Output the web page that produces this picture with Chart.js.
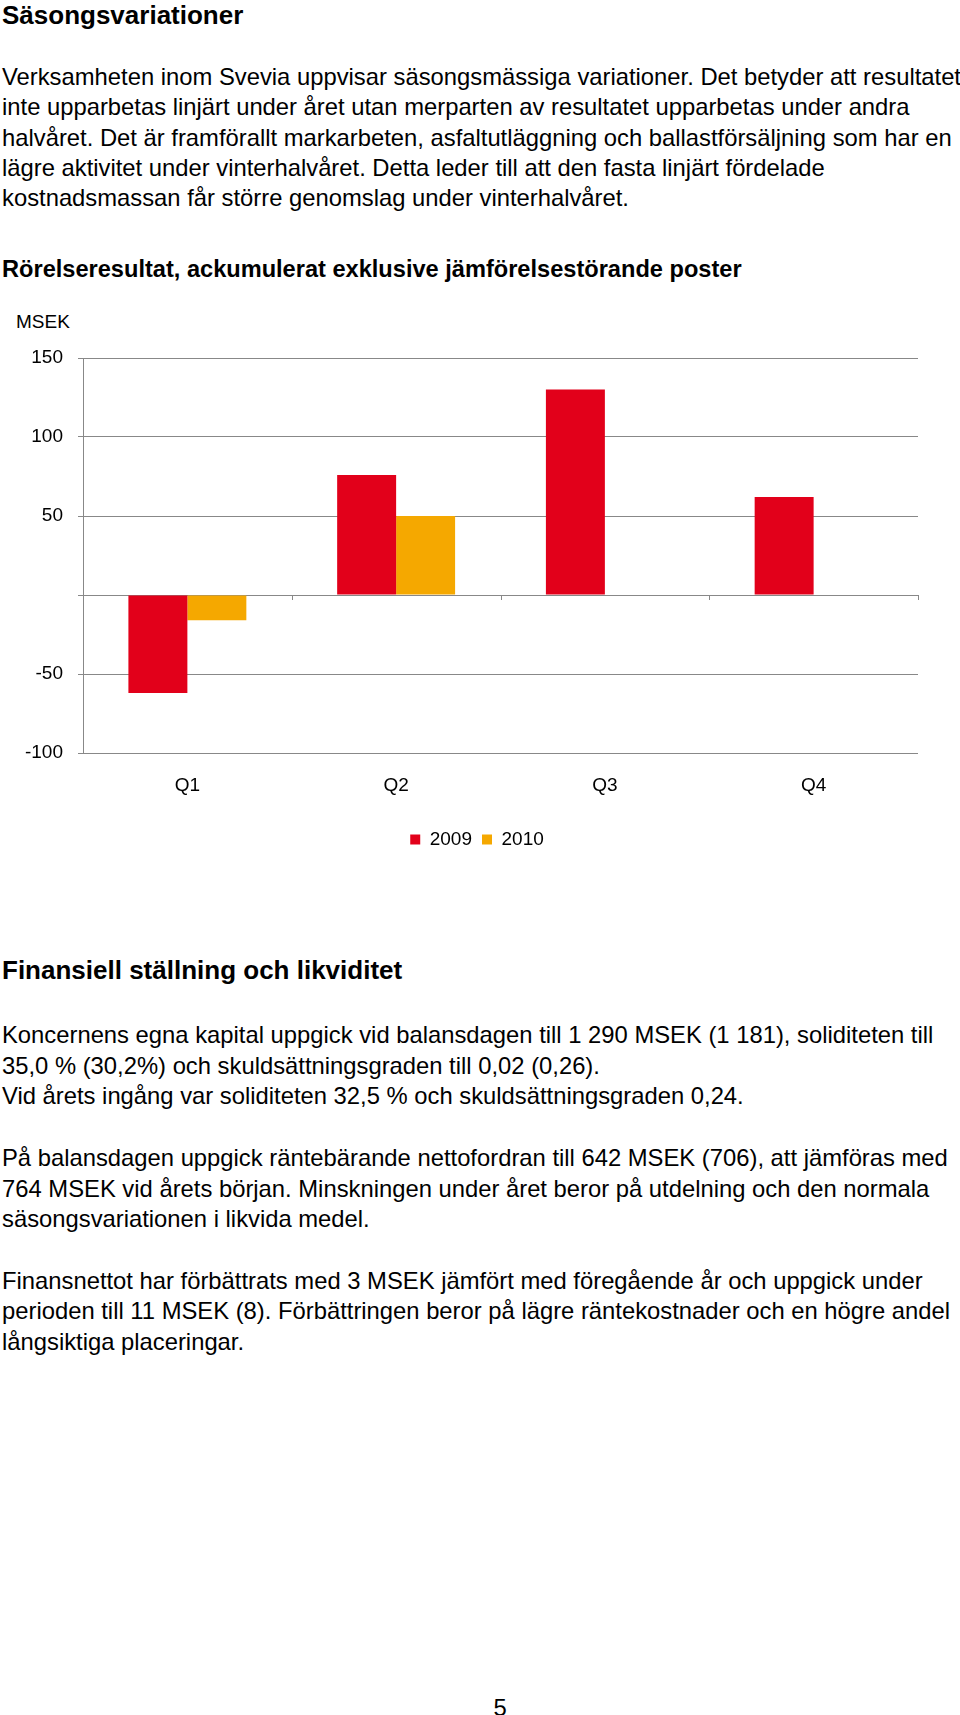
<!DOCTYPE html>
<html lang="sv">
<head>
<meta charset="utf-8">
<title>Säsongsvariationer</title>
<script src="https://cdn.jsdelivr.net/npm/chart.js@4/dist/chart.umd.min.js"></script>
<style>
  html, body { margin: 0; padding: 0; background: #fff; }
  body { width: 960px; height: 1715px; position: relative; font-family: "Liberation Sans", Arial, sans-serif; color: #000; }
  .h { position: absolute; left: 2px; font-weight: bold; font-size: 26px; line-height: 30px; white-space: nowrap; }
  .p { position: absolute; left: 2px; font-size: 23.8px; line-height: 30.3px; white-space: nowrap; }
  .ct { position: absolute; left: 2px; top: 256px; font-weight: bold; font-size: 23.6px; line-height: 26px; white-space: nowrap; }
  .unit { position: absolute; left: 16px; top: 311px; font-size: 19px; line-height: 22px; }
  .wrap { position: absolute; left: 0; top: 330px; width: 960px; height: 529px; }
  .page { position: absolute; left: 480px; width: 40px; top: 1693px; text-align: center; font-size: 23.8px; line-height: 30px; }
</style>
</head>
<body>
<div class="h" style="top:0px">Säsongsvariationer</div>
<div class="p" style="top:62px">Verksamheten inom Svevia uppvisar säsongsmässiga variationer. Det betyder att resultatet<br>inte upparbetas linjärt under året utan merparten av resultatet upparbetas under andra<br>halvåret. Det är framförallt markarbeten, asfaltutläggning och ballastförsäljning som har en<br>lägre aktivitet under vinterhalvåret. Detta leder till att den fasta linjärt fördelade<br>kostnadsmassan får större genomslag under vinterhalvåret.</div>
<div class="ct">Rörelseresultat, ackumulerat exklusive jämförelsestörande poster</div>
<div class="unit">MSEK</div>
<div class="wrap"><canvas id="myChart"></canvas></div>
<div class="h" style="top:955px">Finansiell ställning och likviditet</div>
<div class="p" style="top:1020px; line-height:30.7px">Koncernens egna kapital uppgick vid balansdagen till 1 290 MSEK (1 181), soliditeten till<br>35,0 % (30,2%) och skuldsättningsgraden till 0,02 (0,26).<br>Vid årets ingång var soliditeten 32,5 % och skuldsättningsgraden 0,24.<br><br>På balansdagen uppgick räntebärande nettofordran till 642 MSEK (706), att jämföras med<br>764 MSEK vid årets början. Minskningen under året beror på utdelning och den normala<br>säsongsvariationen i likvida medel.<br><br>Finansnettot har förbättrats med 3 MSEK jämfört med föregående år och uppgick under<br>perioden till 11 MSEK (8). Förbättringen beror på lägre räntekostnader och en högre andel<br>långsiktiga placeringar.</div>
<div class="page">5</div>

<script>
  const quarters = ['Q1', 'Q2', 'Q3', 'Q4'];
  const result2009 = [-62, 76, 130, 62];
  const result2010 = [-16, 50, null, null];

  const gridGrey = '#888888';

  Chart.defaults.font.family = '"Liberation Sans", Arial, sans-serif';
  Chart.defaults.font.size = 19;
  Chart.defaults.color = '#000';

  // small tick marks hanging below the zero line between the quarters
  const zeroTicks = {
    id: 'zeroTicks',
    afterLayout(chart) {
      // legend sits a bit right of the page centre in the original
      chart.legend.left += 8;
      chart.legend.right += 8;
    },
    afterDraw(chart) {
      const xs = chart.scales.x;
      const ys = chart.scales.y;
      const ctx = chart.ctx;
      const y0 = ys.getPixelForValue(0);
      ctx.save();
      ctx.strokeStyle = gridGrey;
      ctx.lineWidth = 1;
      for (let i = 1; i <= quarters.length; i++) {
        const x = Math.round(xs.getPixelForValue(i - 0.5)) + 0.5;
        ctx.beginPath();
        ctx.moveTo(x, y0);
        ctx.lineTo(x, y0 + 5);
        ctx.stroke();
      }
      ctx.restore();
    }
  };

  const data = {
    labels: quarters,
    datasets: [{
      label: '2009',
      backgroundColor: '#E2001A',
      data: result2009,
    }, {
      label: '2010',
      backgroundColor: '#F5A800',
      data: result2010,
    }]
  };

  const config = {
    type: 'bar',
    data: data,
    plugins: [zeroTicks],
    options: {
      responsive: true,
      maintainAspectRatio: false,
      animation: false,
      datasets: {
        bar: { categoryPercentage: 0.565, barPercentage: 1 }
      },
      layout: { padding: { top: 28, right: 42, left: 20, bottom: 0 } },
      plugins: {
        legend: {
          position: 'bottom',
          labels: { boxWidth: 10, boxHeight: 10, padding: 10 }
        },
        tooltip: { enabled: false }
      },
      scales: {
        x: {
          grid: { display: false, drawTicks: false, tickLength: 0 },
          border: { display: false },
          ticks: { padding: 21 },
          afterFit: s => { s.height = 67; }
        },
        y: {
          min: -100,
          max: 150,
          ticks: {
            stepSize: 50,
            padding: 15,
            callback: v => (v === 0 ? '' : v)
          },
          grid: { color: gridGrey, lineWidth: 1, tickLength: 5 },
          border: { display: true, color: gridGrey, width: 1 },
          afterFit: s => { s.width = 63; }
        }
      }
    }
  };

  const myChart = new Chart(
    document.getElementById('myChart'),
    config
  );
</script>
</body>
</html>
